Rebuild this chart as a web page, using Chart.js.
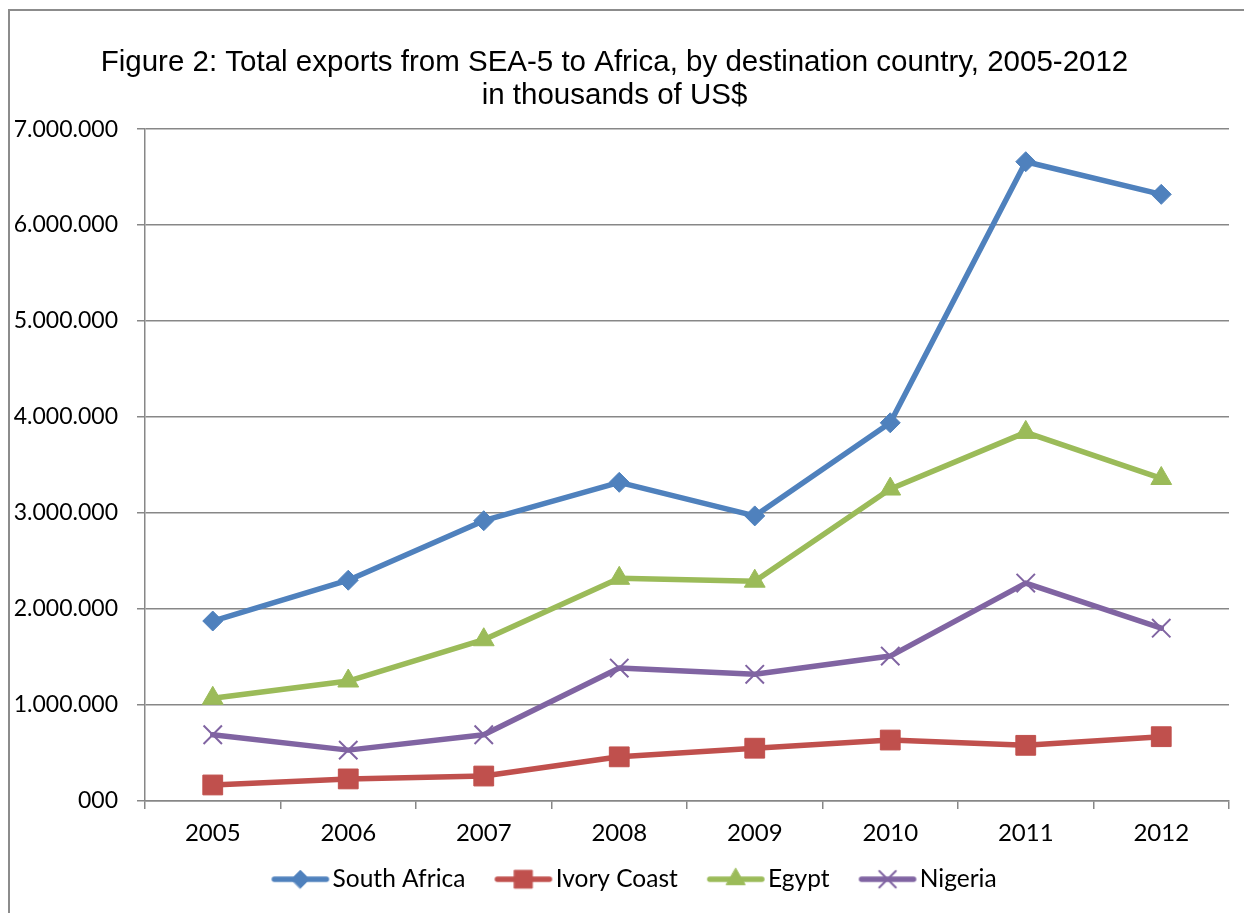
<!DOCTYPE html>
<html>
<head>
<meta charset="utf-8">
<script src="https://cdn.jsdelivr.net/npm/chart.js@4.4.1/dist/chart.umd.min.js"></script>
<style>
  html, body { margin: 0; padding: 0; background: #fff; overflow: hidden; }
  .frame {
    position: absolute; left: 8px; top: 9px; width: 1300px; height: 1000px;
    border-left: 2px solid #8c8c8c; border-top: 2px solid #8c8c8c;
  }
  .chart-box { position: absolute; left: 0; top: 0; width: 1244px; height: 913px; }
</style>
</head>
<body>
<div class="frame"></div>
<div class="chart-box"><canvas id="exports"></canvas></div>
<script>
const years = ["2005", "2006", "2007", "2008", "2009", "2010", "2011", "2012"];
const seriesNames = ["South Africa", "Ivory Coast", "Egypt", "Nigeria"];
const southAfrica = [1875000, 2300000, 2920000, 3320000, 2970000, 3940000, 6660000, 6320000];
const ivoryCoast = [167000, 230000, 260000, 460000, 550000, 635000, 580000, 670000];
const egypt = [1070000, 1250000, 1680000, 2320000, 2290000, 3250000, 3840000, 3360000];
const nigeria = [690000, 530000, 690000, 1385000, 1320000, 1510000, 2270000, 1800000];
const yMax = 7000000;
const yStep = 1000000;

const yFont = { family: "Lato, 'Open Sans', sans-serif", size: 23 };
const xFont = { family: "Lato, 'Open Sans', sans-serif", size: 24 };
const legendFont = { family: "Lato, 'Open Sans', sans-serif", size: 24.5 };
const gridColor = "#878787";
const legendBox = 58;

// styles per series (colour, marker)
const looks = [
  { color: "#4F81BD", marker: "rectRot", radius: 10, pw: 1 },
  { color: "#C0504D", marker: "rect", radius: 14, pw: 1 },
  { color: "#9BBB59", marker: "triangle", radius: 12, pw: 1 },
  { color: "#8064A2", marker: "crossRot", radius: 13, pw: 2 },
];
const values = [southAfrica, ivoryCoast, egypt, nigeria];

const datasets = seriesNames.map((name, i) => ({
  label: name,
  data: values[i],
  borderColor: looks[i].color,
  backgroundColor: looks[i].color,
  borderWidth: 5.5,
  borderCapStyle: "round",
  borderJoinStyle: "round",
  pointStyle: looks[i].marker,
  pointRadius: looks[i].radius,
  pointBorderWidth: looks[i].pw,
  pointBackgroundColor: looks[i].color,
  pointBorderColor: looks[i].color,
  tension: 0,
}));

// legend icon: short line with the marker on it, pushed to the right
// so it sits right next to the label text
function legendIcon(i) {
  const c = document.createElement("canvas");
  c.width = legendBox + 20;
  c.height = 26;
  const x0 = c.width - 60;
  const ctx = c.getContext("2d");
  ctx.strokeStyle = looks[i].color;
  ctx.lineWidth = 5.5;
  ctx.lineCap = "round";
  ctx.beginPath();
  ctx.moveTo(x0 + 4, 13);
  ctx.lineTo(x0 + 56, 13);
  ctx.stroke();
  ctx.fillStyle = looks[i].color;
  ctx.lineWidth = looks[i].pw;
  Chart.helpers.drawPoint(ctx, {
    pointStyle: looks[i].marker,
    radius: looks[i].radius * 0.9,
    rotation: 0,
    borderWidth: looks[i].pw,
  }, x0 + 30, 13);
  return c;
}
const icons = seriesNames.map((_, i) => legendIcon(i));

function dotted(v) {
  if (v === 0) return "000";
  return String(v).replace(/\B(?=(\d{3})+(?!\d))/g, ".");
}

// nudge the legend a bit to the right, like in the original
const legendNudge = {
  id: "legendNudge",
  afterLayout(chart) {
    if (chart.legend) {
      chart.legend.left += 15;
      chart.legend.right += 15;
    }
  },
};

new Chart(document.getElementById("exports"), {
  type: "line",
  data: { labels: years, datasets: datasets },
  plugins: [legendNudge],
  options: {
    responsive: true,
    maintainAspectRatio: false,
    animation: false,
    layout: { padding: { left: 0, right: 15, bottom: 11.5 } },
    plugins: {
      title: {
        display: true,
        text: [
          "Figure 2: Total exports from SEA-5 to Africa, by destination country, 2005-2012",
          "in thousands of US$",
        ],
        color: "#000",
        font: { family: "'Liberation Sans', Arial, sans-serif", size: 29.5, weight: "normal", lineHeight: 1.12 },
        padding: { top: 46, bottom: 17 },
      },
      legend: {
        position: "bottom",
        labels: {
          usePointStyle: true,
          pointStyleWidth: legendBox,
          padding: 20,
          color: "#000",
          font: legendFont,
          generateLabels: (chart) => chart.data.datasets.map((ds, i) => ({
            text: ds.label,
            pointStyle: icons[i],
            fillStyle: ds.borderColor,
            strokeStyle: ds.borderColor,
            lineWidth: 0,
            hidden: false,
            datasetIndex: i,
          })),
        },
      },
      tooltip: { enabled: false },
    },
    scales: {
      x: {
        offset: true,
        grid: {
          offset: true,
          drawOnChartArea: false,
          drawTicks: true,
          tickLength: 8,
          color: gridColor,
          lineWidth: 1.5,
        },
        border: { display: true, color: gridColor, width: 1.5 },
        ticks: { color: "#000", font: xFont, padding: 10 },
        afterFit: (scale) => { scale.height = 46; },
      },
      y: {
        min: 0,
        max: yMax,
        grid: { color: gridColor, lineWidth: 1.5, tickLength: 8 },
        border: { display: true, color: gridColor, width: 1.5 },
        ticks: {
          stepSize: yStep,
          color: "#000",
          font: yFont,
          padding: 19,
          callback: (v) => dotted(v),
        },
        afterFit: (scale) => { scale.width = 145; },
      },
    },
  },
});
</script>
</body>
</html>
